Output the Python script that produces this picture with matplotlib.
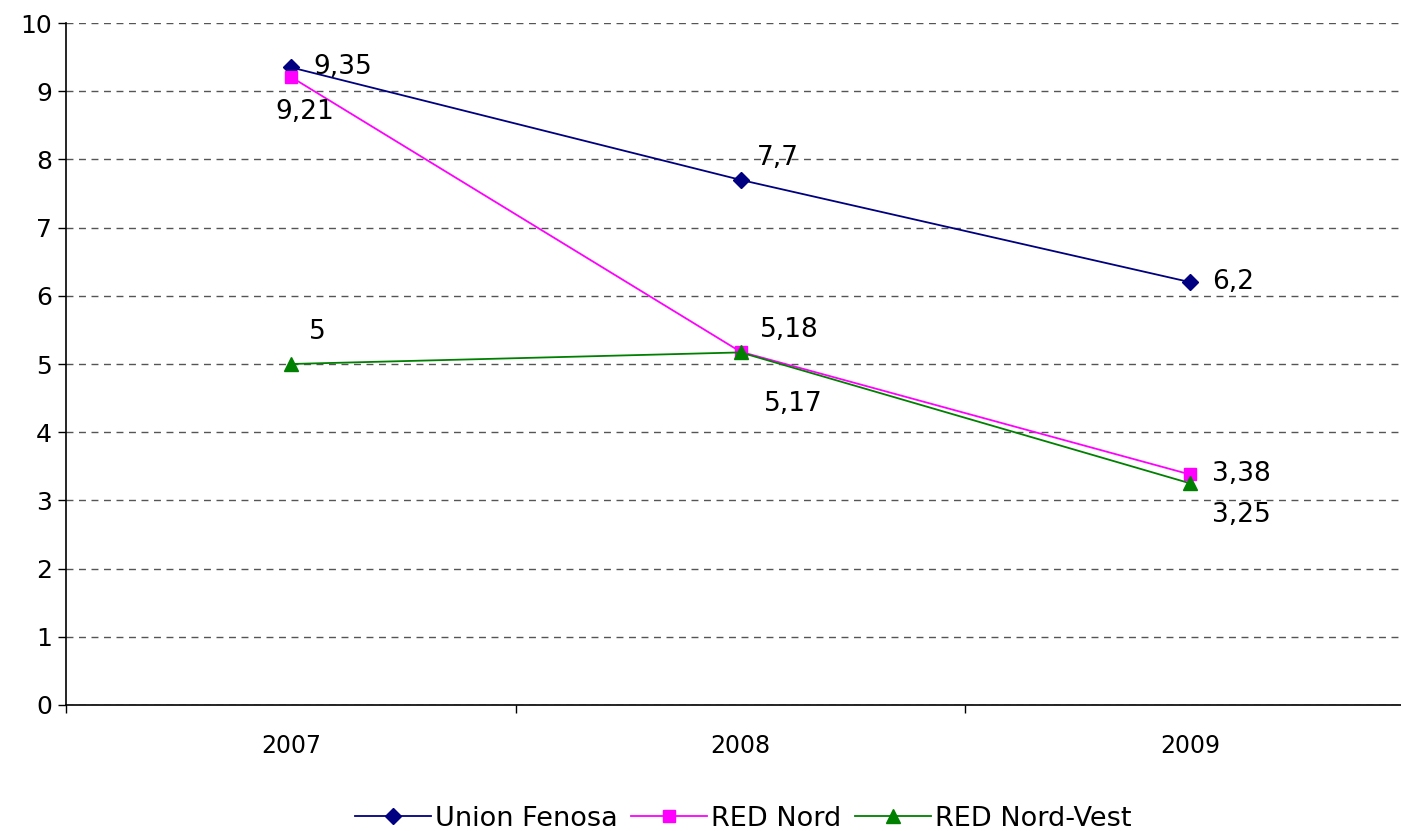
import matplotlib.pyplot as plt
from matplotlib.ticker import FixedLocator, NullFormatter

plt.rcParams['font.family'] = ['DejaVu Sans']

# === Data ===
years = ["2007", "2008", "2009"]
union_fenosa = [9.35, 7.7, 6.2]
red_nord = [9.21, 5.18, 3.38]
red_nord_vest = [5, 5.17, 3.25]

uf_labels = ["9,35", "7,7", "6,2"]
rn_labels = ["9,21", "5,18", "3,38"]
rnv_labels = ["5", "5,17", "3,25"]

x = list(range(len(years)))

# === Figure ===
fig = plt.figure(figsize=(14.01, 8.31), dpi=100)
ax = fig.add_axes([66 / 1401, 126 / 831, (1415 - 66) / 1401, (705 - 23) / 831])

ax.plot(x, union_fenosa, color="#000080", marker="D", markersize=8, linewidth=1.3, label="Union Fenosa", zorder=3)
ax.plot(x, red_nord, color="#FF00FF", marker="s", markersize=9, linewidth=1.3, label="RED Nord", zorder=3)
ax.plot(x, red_nord_vest, color="#008000", marker="^", markersize=10, linewidth=1.3, label="RED Nord-Vest", zorder=4)

ax.set_xlim(-0.5, 2.5)
ax.set_ylim(0, 10)
ax.set_yticks(range(0, 11))
ax.yaxis.grid(True, linestyle=(0, (5, 4)), color="#555555", linewidth=1)
ax.set_axisbelow(True)

# category boundaries get tick marks, labels sit in between
ax.xaxis.set_major_locator(FixedLocator([-0.5, 0.5, 1.5, 2.5]))
ax.xaxis.set_major_formatter(NullFormatter())
ax.xaxis.set_minor_locator(FixedLocator(x))
ax.set_xticks(x, years, minor=True)
ax.tick_params(axis="x", which="minor", length=0, pad=21, labelsize=17)
ax.tick_params(axis="x", which="major", direction="out", length=6, width=1)
ax.tick_params(axis="y", direction="out", length=6, width=1, labelsize=18, pad=4)

for s in ["top", "right"]:
    ax.spines[s].set_visible(False)
for s in ["left", "bottom"]:
    ax.spines[s].set_linewidth(1.2)

# === Data labels ===
fs = 19
ax.annotate(uf_labels[0], (x[0], union_fenosa[0]), xytext=(16, 0), textcoords="offset points", fontsize=fs, va="center", ha="left")
ax.annotate(uf_labels[1], (x[1], union_fenosa[1]), xytext=(12, 16), textcoords="offset points", fontsize=fs, va="center", ha="left")
ax.annotate(uf_labels[2], (x[2], union_fenosa[2]), xytext=(16, 0), textcoords="offset points", fontsize=fs, va="center", ha="left")

ax.annotate(rn_labels[0], (x[0], red_nord[0]), xytext=(10, -25), textcoords="offset points", fontsize=fs, va="center", ha="center")
ax.annotate(rn_labels[1], (x[1], red_nord[1]), xytext=(14, 16), textcoords="offset points", fontsize=fs, va="center", ha="left")
ax.annotate(rn_labels[2], (x[2], red_nord[2]), xytext=(16, 0), textcoords="offset points", fontsize=fs, va="center", ha="left")

ax.annotate(rnv_labels[0], (x[0], red_nord_vest[0]), xytext=(13, 23), textcoords="offset points", fontsize=fs, va="center", ha="left")
ax.annotate(rnv_labels[1], (x[1], red_nord_vest[1]), xytext=(17, -37), textcoords="offset points", fontsize=fs, va="center", ha="left")
ax.annotate(rnv_labels[2], (x[2], red_nord_vest[2]), xytext=(16, -23), textcoords="offset points", fontsize=fs, va="center", ha="left")

# === Legend ===
fig.legend(loc="lower center", bbox_to_anchor=(743 / 1401, -0.03), ncol=3, frameon=False,
           fontsize=19.5, handlelength=2.8, handletextpad=0.15, columnspacing=0.5)

fig.savefig("out.png", dpi=100)
